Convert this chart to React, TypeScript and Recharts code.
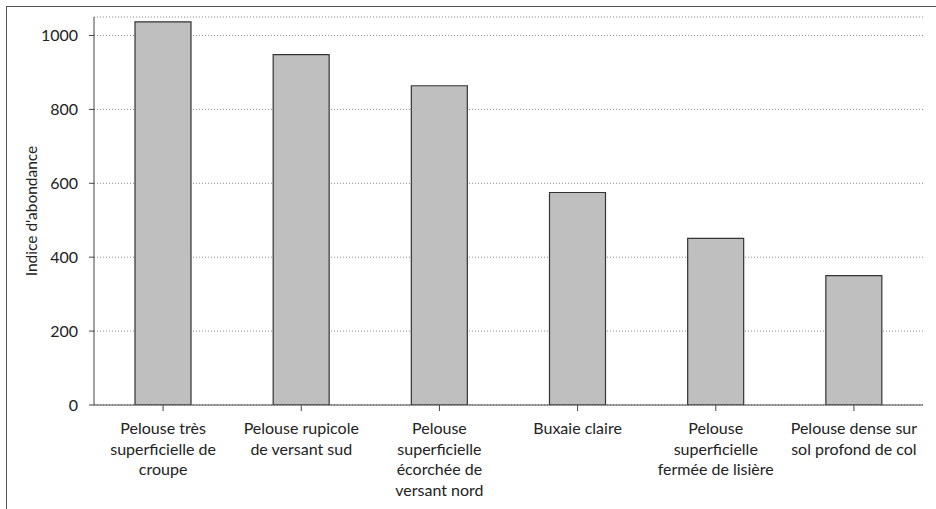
import React from "react"
import { BarChart, Bar, XAxis, YAxis, CartesianGrid } from "recharts"

const categories = [
  "Pelouse très\nsuperficielle de\ncroupe",
  "Pelouse rupicole\nde versant sud",
  "Pelouse\nsuperficielle\nécorchée de\nversant nord",
  "Buxaie claire",
  "Pelouse\nsuperficielle\nfermée de lisière",
  "Pelouse dense sur\nsol profond de col",
]
const values = [1037, 948, 864, 575, 451, 350]
const yTicks = [0, 200, 400, 600, 800, 1000]

const data = categories.map((name, i) => ({ name, value: values[i] }))

const font = "Lato, 'Open Sans', sans-serif"

function CategoryTick(props: any) {
  const { x, y, payload } = props
  const lines = String(payload.value).split("\n")
  return (
    <text x={x} y={y} textAnchor="middle" fill="#222" fontSize={16} fontFamily={font}>
      {lines.map((line, i) => (
        <tspan key={i} x={x} dy={i === 0 ? 23 : 20.5}>
          {line}
        </tspan>
      ))}
    </text>
  )
}

export default function App() {
  return (
    <div
      style={{
        position: "fixed",
        left: 0,
        top: 0,
        width: 936,
        height: 509,
        overflow: "hidden",
        background: "#fff",
      }}
    >
      <div
        style={{
          position: "absolute",
          left: 6,
          top: 6,
          width: 960,
          height: 540,
          border: "1.5px solid #555",
          boxSizing: "border-box",
        }}
      />
      <div style={{ position: "absolute", left: 0, top: 0 }}>
        <BarChart
          width={936}
          height={509}
          data={data}
          margin={{ top: 17, right: 13, left: 0, bottom: 4 }}
          barSize={56}
        >
          <CartesianGrid vertical={false} stroke="#888" strokeDasharray="1 2" />
          <XAxis
            dataKey="name"
            interval={0}
            height={100}
            stroke="#444"
            tickSize={6}
            tickMargin={0}
            tick={<CategoryTick />}
          />
          <YAxis
            width={94}
            domain={[0, 1050]}
            ticks={yTicks}
            allowDataOverflow
            stroke="#444"
            tickSize={5}
            tickMargin={11}
            tick={{ fill: "#222", fontSize: 16, fontFamily: font }}
            label={() => (
              <text
                x={31}
                y={211}
                transform="rotate(-90 31 211)"
                textAnchor="middle"
                dominantBaseline="central"
                fill="#222"
                fontSize={15.5}
                fontFamily={font}
              >
                Indice d'abondance
              </text>
            )}
          />
          <Bar
            dataKey="value"
            fill="#bfbfbf"
            stroke="#333"
            strokeWidth={1.2}
            isAnimationActive={false}
          />
        </BarChart>
      </div>
    </div>
  )
}
